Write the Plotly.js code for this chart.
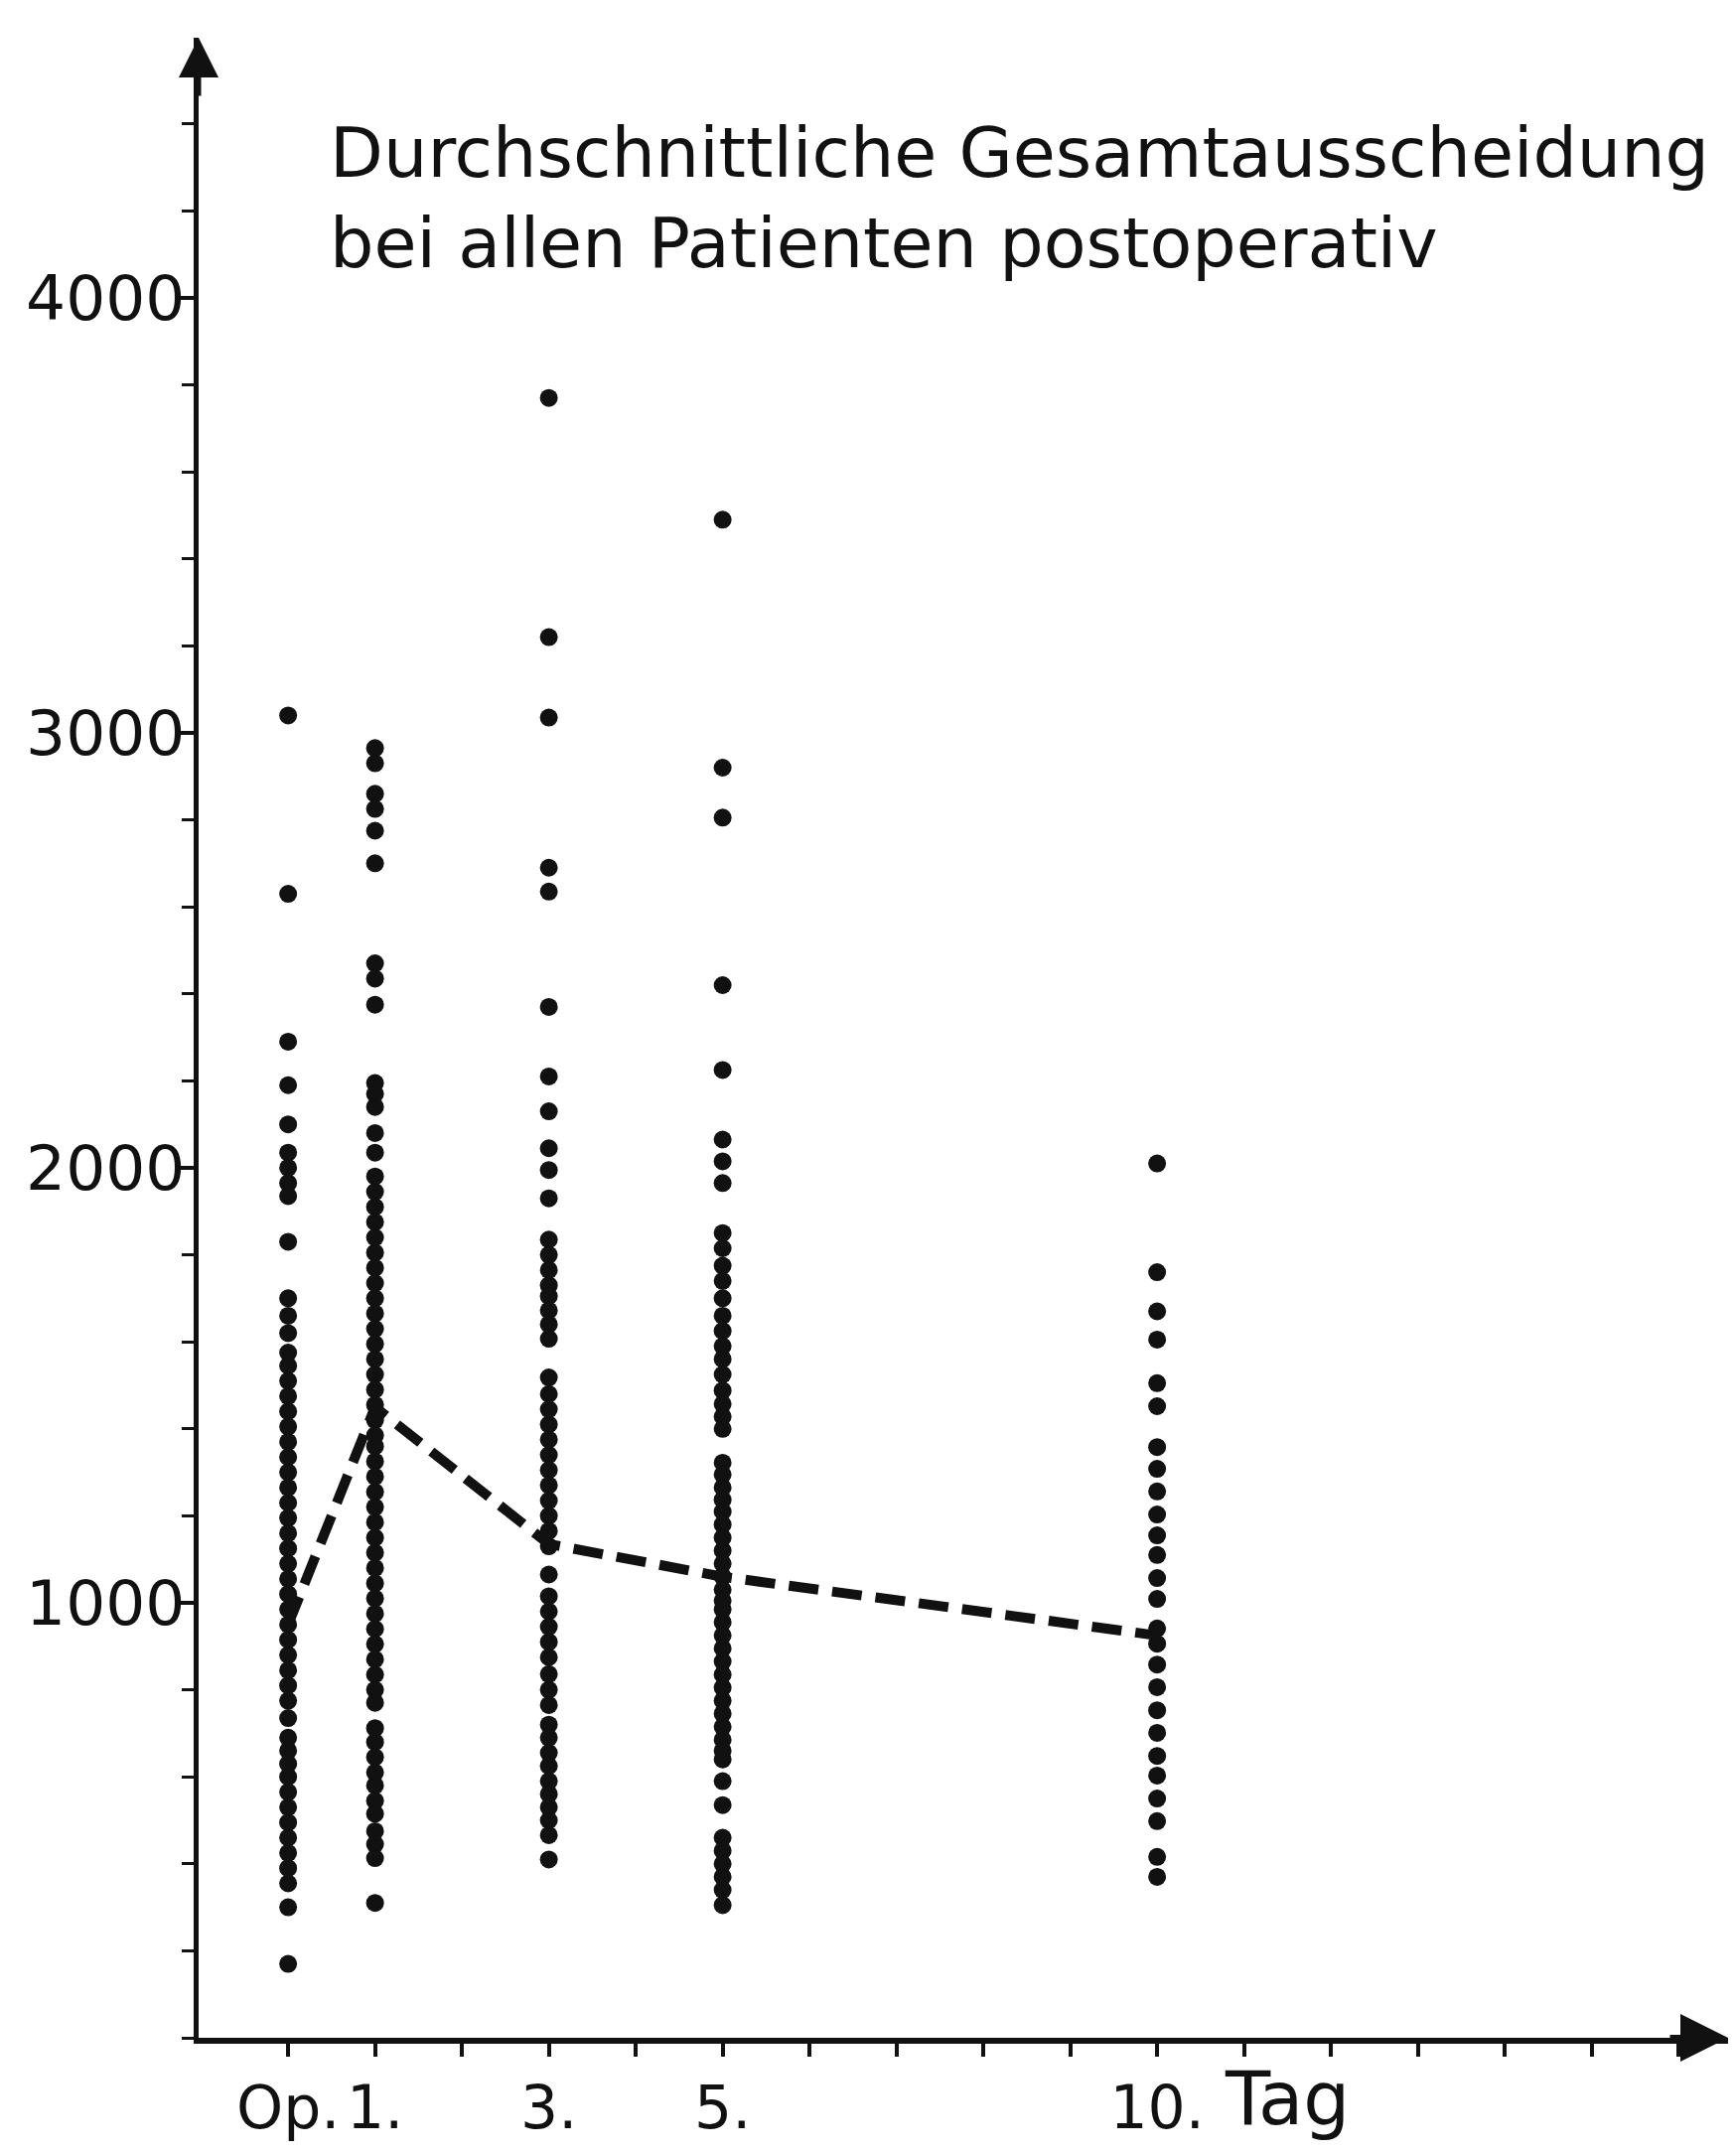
<!DOCTYPE html>
<html>
<head>
<meta charset="utf-8">
<script src="https://cdn.plot.ly/plotly-3.0.1.min.js"></script>
<style>html,body{margin:0;padding:0;background:#fff;}</style>
</head>
<body>
<div id="chart" style="width:1748px;height:2167px;"></div>
<script>
// Days after operation (0 = Op.)
const dayOp = 0, day1 = 1, day3 = 3, day5 = 5, day10 = 10;

// Individual excretion values (ml)
const valuesOp = [3040, 2630, 2290, 2190, 2100, 2035, 2000, 1965, 1935, 1830, 1700, 1660, 1620,
  1575, 1545, 1510, 1475, 1440, 1405, 1370, 1335, 1300, 1265, 1230, 1195, 1160, 1125, 1090, 1055,
  1020, 985, 950, 915, 880, 845, 810, 775, 735, 690, 660, 630, 600, 565, 530, 495, 460, 425, 390,
  355, 300, 170];
const values1 = [2965, 2930, 2860, 2825, 2775, 2700, 2470, 2435, 2375, 2195, 2170, 2140, 2080, 2035,
  1980, 1945, 1910, 1875, 1840, 1805, 1770, 1735, 1700, 1665, 1630, 1595, 1560, 1525, 1490, 1455,
  1420, 1385, 1360, 1325, 1290, 1255, 1220, 1185, 1150, 1115, 1080, 1045, 1010, 975, 940, 905, 870,
  835, 800, 770, 712, 680, 645, 610, 580, 545, 515, 475, 445, 413, 310];
const values3 = [3770, 3220, 3035, 2690, 2635, 2370, 2210, 2130, 2045, 1995, 1930, 1835, 1800, 1765,
  1730, 1705, 1672, 1640, 1607, 1518, 1480, 1445, 1410, 1375, 1340, 1305, 1270, 1235, 1200, 1165,
  1130, 1065, 1015, 980, 945, 910, 875, 836, 800, 765, 720, 690, 655, 625, 590, 560, 530, 500, 466, 410];
const values5 = [3490, 2920, 2805, 2420, 2225, 2065, 2015, 1965, 1850, 1815, 1775, 1740, 1700, 1660,
  1625, 1590, 1560, 1525, 1488, 1457, 1428, 1400, 1322, 1295, 1265, 1237, 1210, 1180, 1150, 1120,
  1090, 1060, 1030, 1005, 985, 955, 925, 895, 865, 835, 805, 775, 745, 715, 685, 660, 640, 590, 535,
  460, 430, 400, 370, 340, 305];
const values10 = [2010, 1760, 1670, 1605, 1505, 1452, 1358, 1308, 1256, 1203, 1155, 1110, 1057, 1009,
  941, 906, 858, 806, 753, 701, 648, 603, 550, 498, 416, 370];

// Average total excretion (dashed line)
const meanDays = [0, 1, 3, 5, 10];
const meanValues = [950, 1450, 1135, 1060, 925];

// Axis ticks
const xTickVals = [0,1,2,3,4,5,6,7,8,9,10,11,12,13,14,15,16];
const xTickText = ['Op.','1.','','3.','','5.','','','','','10.','','','','','',''];
const yTickVals = [1000, 2000, 3000, 4000];
const yTickText = ['1000', '2000', '3000', '4000'];

const titleText = 'Durchschnittliche Gesamtausscheidung<br>bei allen Patienten postoperativ';

function column(day, vals) {
  return { x: vals.map(() => day), y: vals };
}
const cols = [column(dayOp, valuesOp), column(day1, values1), column(day3, values3),
              column(day5, values5), column(day10, values10)];
const allX = [].concat(...cols.map(c => c.x));
const allY = [].concat(...cols.map(c => c.y));

const FONT = 'DejaVu Sans, sans-serif';
const XMIN = -1.03, XMAX = 16.57, YMAX = 4598;

const traces = [
  {
    x: allX, y: allY, type: 'scatter', mode: 'markers',
    marker: { color: '#111', size: 18, line: { width: 0 } },
    hoverinfo: 'skip', showlegend: false, cliponaxis: false
  },
  {
    x: meanDays, y: meanValues, type: 'scatter', mode: 'lines',
    line: { color: '#111', width: 10, dash: '30px,14px' },
    showlegend: false, cliponaxis: false
  }
];

const layout = {
  width: 1748, height: 2167,
  paper_bgcolor: '#fff', plot_bgcolor: '#fff',
  margin: { l: 200, r: 8, t: 38, b: 115 },
  font: { family: FONT, color: '#111', size: 60 },
  title: {
    text: titleText,
    x: 0.19, xanchor: 'left', xref: 'container',
    y: 0.918, yanchor: 'top', yref: 'container',
    font: { family: FONT, size: 70, color: '#111' }
  },
  xaxis: {
    range: [XMIN, XMAX], showgrid: false, zeroline: false,
    showline: true, linewidth: 6, linecolor: '#111',
    tickmode: 'array', tickvals: xTickVals, ticktext: xTickText,
    ticks: 'outside', ticklen: 13, tickwidth: 4, tickcolor: '#111',
    tickfont: { family: FONT, size: 60, color: '#111' }
  },
  yaxis: {
    range: [0, YMAX], showgrid: false, zeroline: false,
    showline: true, linewidth: 5, linecolor: '#111',
    tickmode: 'array', tickvals: yTickVals, ticktext: yTickText,
    ticks: 'outside', ticklen: 14, tickwidth: 4, tickcolor: '#111',
    ticklabelstandoff: -18,
    tickfont: { family: FONT, size: 63, color: '#111' },
    minor: { dtick: 200, tick0: 0, ticks: 'outside', ticklen: 12, tickwidth: 3, tickcolor: '#111', showgrid: false }
  },
  annotations: [
    { x: XMIN, y: YMAX, xref: 'x', yref: 'y', text: '', showarrow: true,
      ax: 0, ay: 60, arrowhead: 2, arrowsize: 1.6, arrowwidth: 5, arrowcolor: '#111', standoff: 0 },
    { x: XMAX, y: 0, xref: 'x', yref: 'y', text: '', showarrow: true,
      ax: -60, ay: 0, arrowhead: 2, arrowsize: 1.6, arrowwidth: 6, arrowcolor: '#111', standoff: 0 },
    { x: 11.5, y: 0, xref: 'x', yref: 'y', yanchor: 'top', yshift: -16, text: 'Tag', showarrow: false,
      font: { family: FONT, size: 74, color: '#111' } }
  ]
};

Plotly.newPlot('chart', traces, layout, { displayModeBar: false, staticPlot: true });
</script>
</body>
</html>
